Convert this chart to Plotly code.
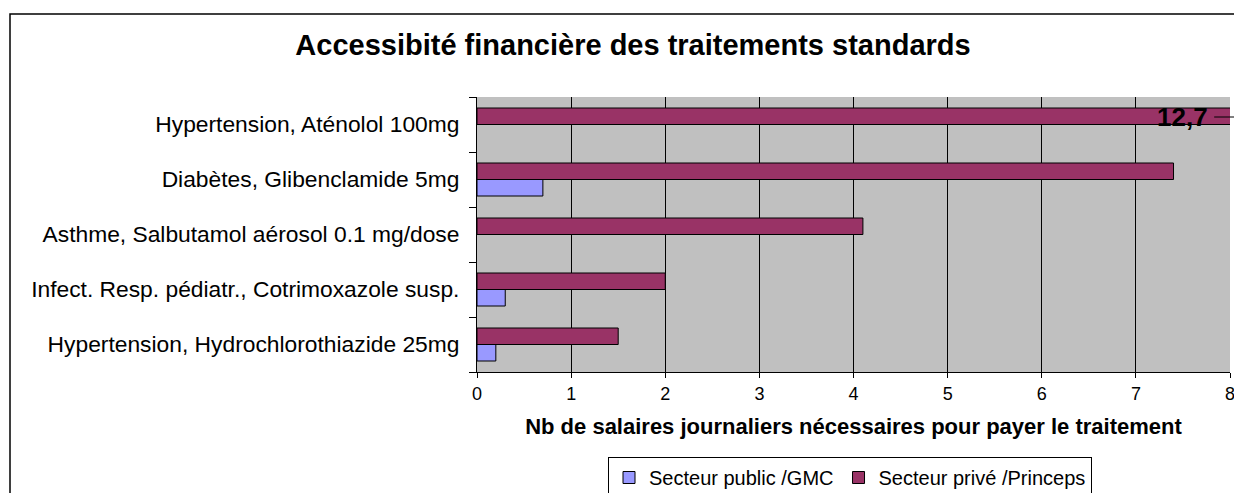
import plotly.graph_objects as go

# categories bottom -> top
treatments = [
    "Hypertension, Hydrochlorothiazide 25mg",
    "Infect. Resp. pédiatr., Cotrimoxazole susp.",
    "Asthme, Salbutamol aérosol 0.1 mg/dose",
    "Diabètes, Glibenclamide 5mg",
    "Hypertension, Aténolol 100mg",
]
public_gmc = [0.2, 0.3, None, 0.7, None]
prive_princeps = [1.5, 2.0, 4.1, 7.4, 12.7]
x_ticks = [0, 1, 2, 3, 4, 5, 6, 7, 8]

# page body has an 8px margin: figure is drawn from (8, 8)
OFF = 8
W, H = 1242 - OFF, 493 - OFF
L, R, T, B = 477 - OFF, 12, 97 - OFF, 121
pw, ph = W - L - R, H - T - B

fig = go.Figure()
fig.add_trace(
    go.Bar(
        y=treatments,
        x=public_gmc,
        orientation="h",
        name="Secteur public /GMC",
        marker=dict(color="#9999FF", line=dict(color="black", width=1)),
    )
)
fig.add_trace(
    go.Bar(
        y=treatments,
        x=prive_princeps,
        orientation="h",
        name="Secteur privé /Princeps",
        marker=dict(color="#993366", line=dict(color="black", width=1)),
    )
)

# label of the clipped bar
bar_y = 1 - (117 - 97) / ph
fig.add_annotation(
    x=8,
    xref="x",
    y=bar_y,
    yref="paper",
    xanchor="right",
    yanchor="middle",
    xshift=-20,
    text="<b>12,7</b>",
    showarrow=False,
    font=dict(size=26, color="black"),
)
fig.add_shape(
    type="line", xref="paper", yref="paper", x0=0.979, x1=1.009,
    y0=bar_y, y1=bar_y, line=dict(color="black", width=1),
)
fig.add_shape(
    type="line", xref="paper", yref="paper", x0=1.011, x1=1.011,
    y0=bar_y - 0.035, y1=bar_y + 0.035, line=dict(color="black", width=3),
)

# outer chart border
fig.add_shape(
    type="rect", xref="paper", yref="paper",
    x0=(10 - 477) / pw, x1=1.2, y0=-0.6, y1=1 + (97 - 14) / ph,
    line=dict(color="black", width=1.5),
)

fig.update_layout(
    width=W,
    height=H,
    margin=dict(l=L, r=R, t=T, b=B, autoexpand=False),
    paper_bgcolor="white",
    plot_bgcolor="#C0C0C0",
    barmode="group",
    bargap=0.4,
    bargroupgap=0,
    font=dict(family="Liberation Sans, Arial, sans-serif", size=18, color="black"),
    title=dict(
        text="<b>Accessibité financière des traitements standards</b>",
        x=(633 - OFF) / W,
        xanchor="center",
        y=1 - (45 - OFF) / H,
        yanchor="middle",
        font=dict(size=29, color="black"),
    ),
    legend=dict(
        orientation="h",
        x=(850 - 477) / pw,
        xanchor="center",
        y=-(457 - 372) / ph,
        yanchor="top",
        bordercolor="black",
        borderwidth=1,
        font=dict(size=20),
        itemwidth=30,
        tracegroupgap=0,
    ),
    showlegend=True,
)
fig.update_xaxes(
    range=[0, 8],
    tickvals=x_ticks,
    showgrid=True,
    gridcolor="black",
    gridwidth=1,
    ticks="outside",
    ticklen=5,
    tickcolor="black",
    showline=True,
    linecolor="black",
    zeroline=False,
    automargin=False,
    ticklabelstandoff=0,
    title=dict(
        text="<b>Nb de salaires journaliers nécessaires pour payer le traitement</b>",
        font=dict(size=22),
        standoff=16,
    ),
    tickfont=dict(size=18),
)
fig.update_yaxes(
    categoryorder="array",
    categoryarray=treatments,
    ticks="outside",
    tickson="boundaries",
    ticklen=7,
    tickcolor="black",
    showline=True,
    linecolor="black",
    automargin=False,
    tickfont=dict(size=22.8),
    ticklabelstandoff=12,
)

fig.write_html("out.html")
